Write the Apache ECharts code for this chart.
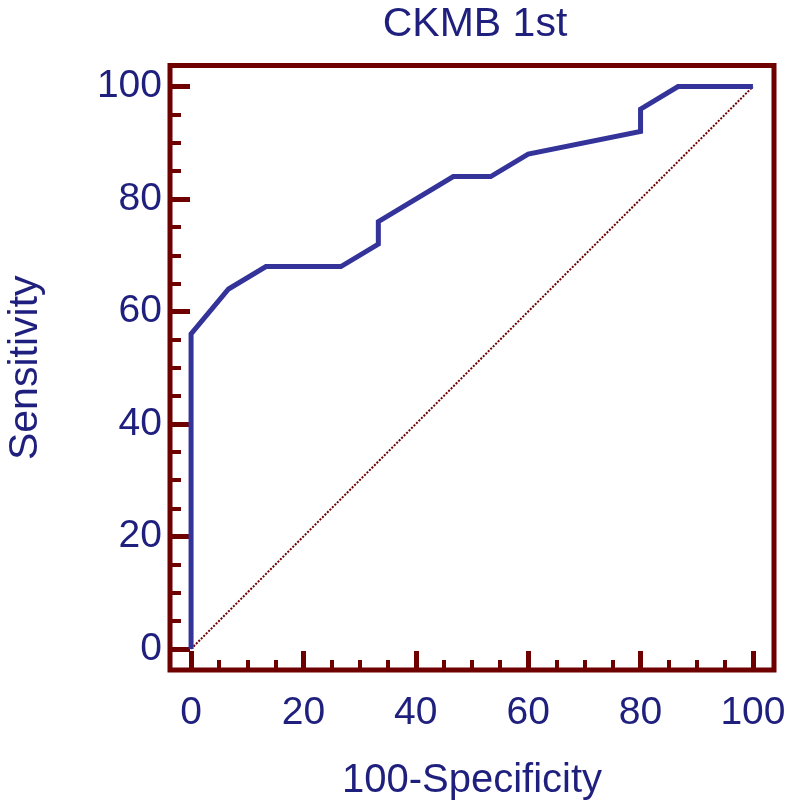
<!DOCTYPE html>
<html>
<head>
<meta charset="utf-8">
<script src="https://cdn.jsdelivr.net/npm/echarts@6/dist/echarts.min.js"></script>
<style>
html,body{margin:0;padding:0;background:#fff;}
#chart{width:787px;height:812px;}
</style>
</head>
<body>
<div id="chart"></div>
<script>
// ROC curve data (100-Specificity, Sensitivity)
var rocX = [0, 0, 6.67, 13.33, 26.67, 33.33, 33.33, 46.67, 53.33, 60, 80, 80, 86.67, 100];
var rocY = [0, 56, 64, 68, 68, 72, 76, 84, 84, 88, 92, 96, 100, 100];
var diagX = [0, 100];
var diagY = [0, 100];
var majorTicks = [0, 20, 40, 60, 80, 100];
var minorTicks = [5, 10, 15, 25, 30, 35, 45, 50, 55, 65, 70, 75, 85, 90, 95];
var titleText = 'CKMB 1st';
var xName = '100-Specificity';
var yName = 'Sensitivity';

var FRAME = '#6e0000';
var NAVY = '#1f1f7e';
var CURVE = '#33339a';
var FONT = 'Liberation Sans, Arial, sans-serif';
var AMIN = -3.75, AMAX = 103.75;

function pairs(xs, ys) { return xs.map(function (v, i) { return [v, ys[i]]; }); }

function majorAxis(pos, name, nameGap, tickLen, labelMargin, nameSize) {
  return {
    type: 'value', gridIndex: 0, position: pos, min: AMIN, max: AMAX,
    axisLine: { show: false, onZero: false },
    splitLine: { show: false },
    axisTick: { show: true, inside: true, length: tickLen, customValues: majorTicks, lineStyle: { color: FRAME, width: 5 } },
    axisLabel: { show: true, customValues: majorTicks, color: NAVY, fontSize: 39, fontFamily: FONT, margin: labelMargin },
    name: name, nameLocation: 'middle', nameGap: nameGap,
    nameTextStyle: { color: NAVY, fontSize: nameSize, fontFamily: FONT }
  };
}
function minorAxis(pos, tickLen) {
  return {
    type: 'value', gridIndex: 0, position: pos, min: AMIN, max: AMAX, offset: 0,
    axisLine: { show: false, onZero: false },
    splitLine: { show: false },
    axisTick: { show: true, inside: true, length: tickLen, customValues: minorTicks, lineStyle: { color: FRAME, width: 4 } },
    axisLabel: { show: false }
  };
}

var chart = echarts.init(document.getElementById('chart'));
chart.setOption({
  animation: false,
  title: {
    text: titleText, left: 470, top: -1, textAlign: 'center',
    textStyle: { color: NAVY, fontSize: 41, fontWeight: 'normal', fontFamily: FONT }
  },
  grid: [
    { left: 170, top: 65.5, width: 604, height: 604.5, show: true, borderColor: FRAME, borderWidth: 5,
      backgroundColor: 'transparent', containLabel: false, outerBoundsMode: 'none' }
  ],
  xAxis: [
    majorAxis('bottom', xName, 91, 19, 24, 40),
    minorAxis('bottom', 10)
  ],
  yAxis: [
    majorAxis('left', yName, 124, 20, 8, 41),
    minorAxis('left', 11)
  ],
  series: [
    {
      type: 'line', xAxisIndex: 0, yAxisIndex: 0, data: pairs(diagX, diagY),
      symbol: 'none', clip: false, silent: true,
      lineStyle: { color: '#6e0000', width: 2, type: [2, 1.5] }
    },
    {
      type: 'line', xAxisIndex: 0, yAxisIndex: 0, data: pairs(rocX, rocY),
      symbol: 'none', clip: false, z: 5,
      lineStyle: { color: CURVE, width: 5, join: 'miter', cap: 'butt' }
    }
  ]
});
</script>
</body>
</html>
